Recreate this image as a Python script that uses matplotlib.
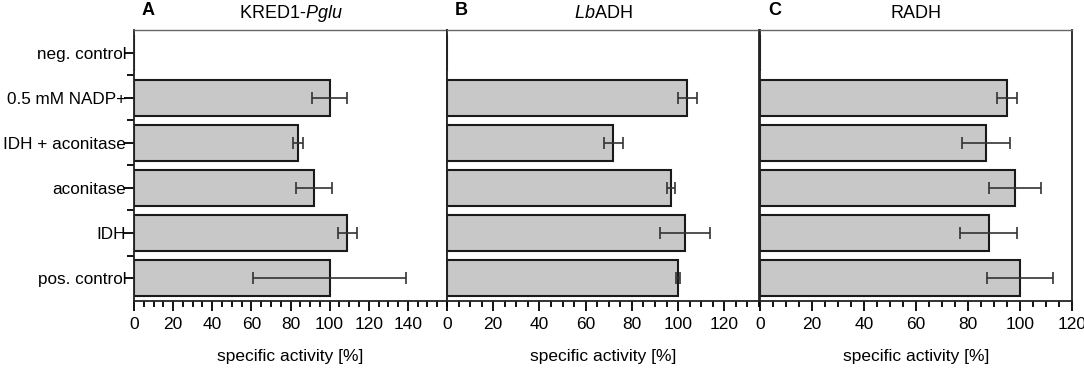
import matplotlib.pyplot as plt
import numpy as np
from matplotlib.ticker import MultipleLocator

plt.rcParams['font.family'] = ['Liberation Sans', 'DejaVu Sans']
plt.rcParams['mathtext.fontset'] = 'custom'
plt.rcParams['mathtext.rm'] = 'Liberation Sans'
plt.rcParams['mathtext.it'] = 'Liberation Sans:italic'

categories = ['neg. control', '0.5 mM NADP+', 'IDH + aconitase',
              'aconitase', 'IDH', 'pos. control']

kred_vals = [0, 100, 84, 92, 109, 100]
kred_err = [0, 9, 2.5, 9, 4.8, 39]
lbadh_vals = [0, 104, 72, 97, 103, 100]
lbadh_err = [0, 4, 4, 1.8, 11, 1]
radh_vals = [0, 95, 87, 98, 88, 100]
radh_err = [0, 4, 9.3, 10, 11, 12.6]

panels = [
    ('A', 'KRED1-$\\mathit{Pglu}$', kred_vals, kred_err, 160, 140),
    ('B', '$\\mathit{Lb}$ADH', lbadh_vals, lbadh_err, 135, 120),
    ('C', 'RADH', radh_vals, radh_err, 120, 120),
]

fig = plt.figure(figsize=(10.84, 3.68), dpi=100)
lefts = [134, 447, 760]
widths = [313, 312, 312]
bottom = 1 - 300.7 / 368
height = (300.7 - 30) / 368

y = np.arange(len(categories))

for i, (letter, title, vals, err, xmax, lastmaj) in enumerate(panels):
    ax = fig.add_axes([lefts[i] / 1084, bottom, widths[i] / 1084, height])
    ax.barh(y, vals, height=0.8, color='#c8c8c8', edgecolor='#1a1a1a',
            linewidth=1.5, zorder=2)
    mask = np.array(vals) > 0
    ax.errorbar(np.array(vals)[mask], y[mask], xerr=np.array(err)[mask],
                fmt='none', ecolor='#333333', elinewidth=1.2, capsize=4,
                capthick=1.2, zorder=3)
    ax.set_ylim(len(categories) - 0.5, -0.5)
    ax.set_xlim(0, xmax)
    ax.set_xticks(np.arange(0, lastmaj + 1, 20))
    ax.xaxis.set_minor_locator(MultipleLocator(5))
    ax.tick_params(axis='x', which='major', length=7, width=1.3,
                   labelsize=12.5, pad=5, direction='out')
    ax.tick_params(axis='x', which='minor', length=4, width=1.3,
                   direction='out')
    for s in ax.spines.values():
        s.set_linewidth(1.3)
        s.set_color('#222222')
    ax.spines['top'].set_color('#666666')
    ax.spines['top'].set_linewidth(1.0)
    if i == 0:
        ax.set_yticks(y)
        ax.set_yticklabels(categories, fontsize=12.3)
        ax.set_yticks(np.arange(0.5, len(categories) - 0.5, 1), minor=True)
        ax.tick_params(axis='y', which='major', length=7, width=1.3, pad=-1.5)
        ax.tick_params(axis='y', which='minor', length=5, width=1.3)
    else:
        ax.set_yticks([])
    ax.set_xlabel('specific activity [%]', fontsize=12.5, labelpad=12)
    ax.set_title(title, fontsize=13, pad=9)
    ax.text(0.025, 1.04, letter, transform=ax.transAxes, fontsize=13,
            fontweight='bold', ha='left', va='bottom')

fig.savefig('out.png', dpi=100)
